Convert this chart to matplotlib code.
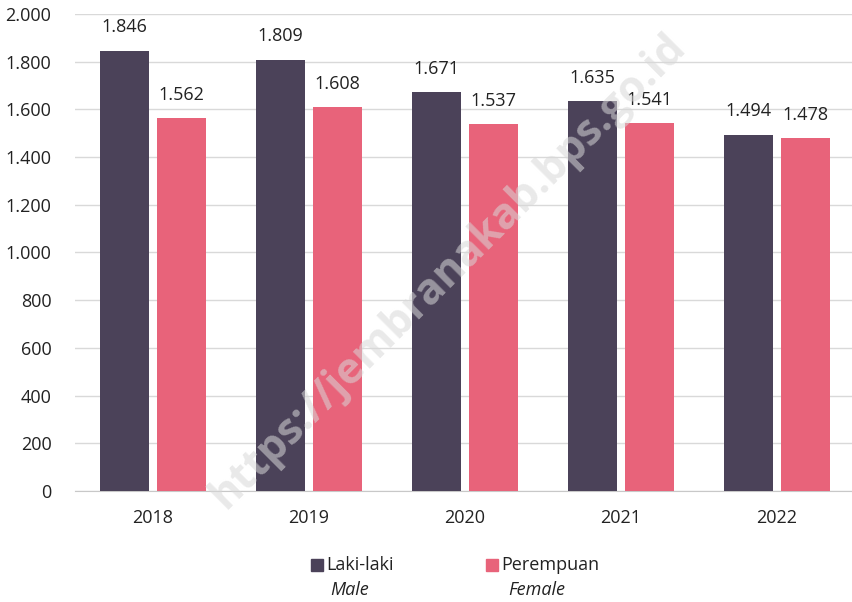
import matplotlib.pyplot as plt
import numpy as np
from matplotlib.patches import Rectangle

plt.rcParams['font.family'] = ['Open Sans', 'DejaVu Sans']

# Data
years = ['2018', '2019', '2020', '2021', '2022']
male = [1846, 1809, 1671, 1635, 1494]
female = [1562, 1608, 1537, 1541, 1478]
yticks = [0, 200, 400, 600, 800, 1000, 1200, 1400, 1600, 1800, 2000]
ytick_labels = ['0', '200', '400', '600', '800', '1.000', '1.200', '1.400', '1.600', '1.800', '2.000']

c_male = '#4b4259'
c_female = '#e8637a'

fig = plt.figure(figsize=(8.53, 6.02), dpi=100)
ax = fig.add_axes([75 / 853, 1 - 491 / 602, 780 / 853, (491 - 14) / 602])

x = np.arange(len(years))
w = 0.31
off = 0.183
ax.bar(x - off, male, w, color=c_male, zorder=3)
ax.bar(x + off, female, w, color=c_female, zorder=3)

for xi, m, f in zip(x, male, female):
    ax.text(xi - off, m + 60, f'{m/1000:.3f}', ha='center', va='bottom', fontsize=13, color='#222222')
    ax.text(xi + off, f + 60, f'{f/1000:.3f}', ha='center', va='bottom', fontsize=13, color='#222222')

ax.set_xlim(-0.5, len(years) - 0.5)
ax.set_ylim(0, 2000)
ax.set_yticks(yticks)
ax.set_yticklabels(ytick_labels, fontsize=13, color='#222222')
ax.set_xticks(x)
ax.set_xticklabels(years, fontsize=13, color='#222222')
ax.tick_params(axis='both', length=0)
ax.tick_params(axis='y', pad=17)
ax.tick_params(axis='x', pad=13)
ax.yaxis.grid(True, color='#d9d9d9', linewidth=1, zorder=0)
for s in ['top', 'right', 'left']:
    ax.spines[s].set_visible(False)
ax.spines['bottom'].set_color('#c8c8c8')

# Legend
fig.patches.append(Rectangle((311 / 853, 1 - 571 / 602), 12 / 853, 12 / 602,
                             transform=fig.transFigure, color=c_male))
fig.text(326 / 853, 1 - 565 / 602, 'Laki-laki', fontsize=13, va='center', color='#222222')
fig.text(330 / 853, 1 - 590 / 602, 'Male', fontsize=13, va='center', style='italic', color='#222222')
fig.patches.append(Rectangle((486 / 853, 1 - 571 / 602), 12 / 853, 12 / 602,
                             transform=fig.transFigure, color=c_female))
fig.text(501 / 853, 1 - 565 / 602, 'Perempuan', fontsize=13, va='center', color='#222222')
fig.text(508 / 853, 1 - 590 / 602, 'Female', fontsize=13, va='center', style='italic', color='#222222')

# Watermark
fig.text(0.525, 0.55, 'https://jembranakab.bps.go.id', fontsize=31, fontweight='bold',
         color='#d8d8d8', alpha=0.55, rotation=45, ha='center', va='center', zorder=10)

fig.savefig('out.png', dpi=100)
